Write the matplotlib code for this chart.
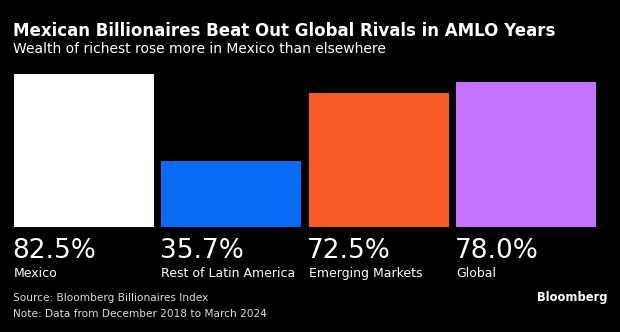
import matplotlib
matplotlib.use("Agg")
import matplotlib.pyplot as plt

categories = ["Mexico", "Rest of Latin America", "Emerging Markets", "Global"]
values = [82.5, 35.7, 72.5, 78.0]
colors = ["#ffffff", "#0a6cf5", "#fb5a29", "#c472ff"]

plt.rcParams.update({
    "font.family": "DejaVu Sans",
    "figure.facecolor": "black",
    "axes.facecolor": "black",
})

W, H = 620, 332
fig = plt.figure(figsize=(W / 100, H / 100), dpi=100)
ax = fig.add_axes([14 / W, (H - 227) / H, (596 - 14) / W, (227 - 74) / H])

w = 0.952
x = range(len(values))
ax.bar(x, values, width=w, color=colors, linewidth=0)
ax.set_xlim(-w / 2, len(values) - 1 + w / 2)
ax.set_ylim(0, max(values))
ax.axis("off")

for i, (v, cat) in enumerate(zip(values, categories)):
    ax.annotate(f"{v:.1f}%", xy=(i - w / 2, 0), xytext=(-1, -8),
                textcoords="offset points", ha="left", va="top",
                color="white", fontsize=19)
    ax.annotate(cat, xy=(i - w / 2, 0), xytext=(0, -28.5),
                textcoords="offset points", ha="left", va="top",
                color="white", fontsize=9)

fig.text(13 / W, 1 - 36 / H, "Mexican Billionaires Beat Out Global Rivals in AMLO Years",
         ha="left", va="baseline", color="white", fontsize=11.95, fontweight="bold")
fig.text(13 / W, 1 - 53 / H, "Wealth of richest rose more in Mexico than elsewhere",
         ha="left", va="baseline", color="white", fontsize=10)
fig.text(13 / W, 1 - 301 / H, "Source: Bloomberg Billionaires Index",
         ha="left", va="baseline", color="#dcdcdc", fontsize=7.6)
fig.text(13 / W, 1 - 317 / H, "Note: Data from December 2018 to March 2024",
         ha="left", va="baseline", color="#dcdcdc", fontsize=7.6)
fig.text(607 / W, 1 - 301 / H, "Bloomberg", ha="right", va="baseline",
         color="white", fontsize=8.3, fontweight="bold")

fig.savefig("out.png", dpi=100, facecolor="black")
